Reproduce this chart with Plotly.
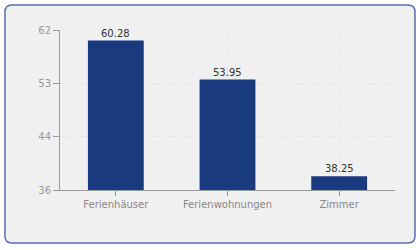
import base64
import plotly.graph_objects as go

categories = ["Ferienhäuser", "Ferienwohnungen", "Zimmer"]
values = [60.28, 53.95, 38.25]
value_labels = ["60.28", "53.95", "38.25"]
y_min, y_max = 36, 62
y_tick_labels = ["36", "44", "53", "62"]

W, H = 420, 250
L, R, T, B = 60, 25, 30, 60
PW, PH = W - L - R, H - T - B

def px(x):
    return (x - L) / PW

def py(y):
    return (H - B - y) / PH

# hatch background for the plot area
lines = []
for k in range(-PH, PW + PH, 5):
    lines.append(f'<line x1="{k}" y1="{PH}" x2="{k + PH}" y2="0" stroke="#ebebeb" stroke-width="1"/>')
svg = (f'<svg xmlns="http://www.w3.org/2000/svg" width="{PW}" height="{PH}">'
       f'<rect width="{PW}" height="{PH}" fill="#ffffff"/>' + "".join(lines) + '</svg>')
src = "data:image/svg+xml;base64," + base64.b64encode(svg.encode()).decode()

n = len(y_tick_labels)
tickvals = [y_min + i * (y_max - y_min) / (n - 1) for i in range(n)]

fig = go.Figure()
fig.add_trace(go.Bar(
    x=categories, y=values,
    marker=dict(color="#1a3a80", line=dict(width=0)),
    width=0.5,
))
for c, v, t in zip(categories, values, value_labels):
    fig.add_annotation(x=c, y=v, text=t, showarrow=False, yanchor="bottom",
                       yshift=0, font=dict(family="DejaVu Sans", size=10, color="#333333"))

# rounded outer frame
x0, y0, x1, y1, r = 5, 5, 415, 243, 7
path = (f"M {px(x0 + r)},{py(y0)} L {px(x1 - r)},{py(y0)} "
        f"Q {px(x1)},{py(y0)} {px(x1)},{py(y0 + r)} "
        f"L {px(x1)},{py(y1 - r)} Q {px(x1)},{py(y1)} {px(x1 - r)},{py(y1)} "
        f"L {px(x0 + r)},{py(y1)} Q {px(x0)},{py(y1)} {px(x0)},{py(y1 - r)} "
        f"L {px(x0)},{py(y0 + r)} Q {px(x0)},{py(y0)} {px(x0 + r)},{py(y0)} Z")

fig.update_layout(
    width=W, height=H,
    margin=dict(l=L, r=R, t=T, b=B),
    paper_bgcolor="#ffffff",
    plot_bgcolor="rgba(0,0,0,0)",
    showlegend=False,
    bargap=0.5,
    shapes=[dict(type="path", path=path, xref="paper", yref="paper",
                 fillcolor="#f0f0f0", line=dict(color="#5a6cb0", width=1.5),
                 layer="below")],
    images=[dict(source=src, xref="paper", yref="paper", x=0, y=1,
                 sizex=1, sizey=1, sizing="stretch", xanchor="left",
                 yanchor="top", layer="below")],
    font=dict(family="DejaVu Sans", size=10, color="#888888"),
)
fig.update_xaxes(
    showgrid=True, gridcolor="#e6e6e6", griddash="dash", gridwidth=1,
    showline=True, linecolor="#999999", linewidth=1,
    ticks="outside", ticklen=5, tickcolor="#999999",
    tickfont=dict(family="DejaVu Sans", size=10, color="#888888"),
)
fig.update_yaxes(
    range=[y_min, y_max], tickvals=tickvals, ticktext=y_tick_labels,
    showgrid=True, gridcolor="#e6e6e6", griddash="dash", gridwidth=1,
    showline=True, linecolor="#999999", linewidth=1,
    ticks="outside", ticklen=6, tickcolor="#999999",
    tickfont=dict(family="DejaVu Sans", size=10, color="#999999"),
    zeroline=False,
)

fig.write_html("out.html")
